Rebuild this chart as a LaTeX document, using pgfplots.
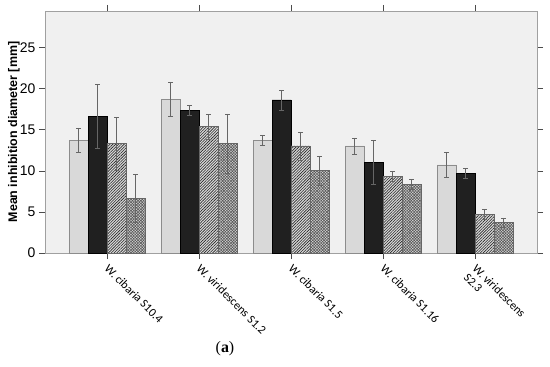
\documentclass[border=0pt]{standalone}
\usepackage{pgfplots}
\pgfplotsset{compat=1.18}
\usetikzlibrary{patterns.meta}
\usepackage{fontspec}
\setmainfont{Liberation Sans}
\newfontfamily\carlito{Carlito}
\newfontfamily\serifcap{Liberation Serif}
\definecolor{bgc}{HTML}{F0F0F0}
\definecolor{framec}{HTML}{A0A0A0}
\definecolor{lgray}{HTML}{D9D9D9}
\definecolor{dblack}{HTML}{202020}
\begin{document}
\begin{tikzpicture}
\begin{axis}[
  scale only axis,
  width=492bp, height=242bp,
  xmin=-0.674, xmax=4.674,
  ymin=0, ymax=29.4,
  ybar=0pt,
  bar width=19bp,
  axis background/.style={fill=bgc},
  axis line style={framec},
  xtick={0,1,2,3,4},
  xticklabels={W. cibaria S10.4, W. viridescens S1.2, W. cibaria S1.5, W. cibaria S1.16, {W. viridescens\\S2.3}},
  xticklabel style={rotate=-45, anchor=north west, font=\carlito\fontsize{12}{12.5}\selectfont, align=left, inner sep=1pt, xshift=4bp},
  x tick style={black!70, line width=0.5pt},
  tick align=outside,
  major tick length=6bp,
  ytick={0,5,10,15,20,25},
  y tick style={black!70},
  yticklabel style={font=\fontsize{14}{14}\selectfont},
  /pgf/number format/assume math mode=true,
  ylabel={Mean inhibition diameter [mm]},
  every axis y label/.style={at={(axis description cs:0,0.5)}, xshift=-31bp, rotate=90, anchor=center, font=\bfseries\fontsize{12.5}{13}\selectfont},
  error bars/y dir=both,
  error bars/y explicit,
  error bars/error bar style={black!60, line width=0.5pt},
  error bars/error mark options={rotate=90, mark size=2.5bp, black!60, line width=0.5pt},
  clip=false,
]
\addplot[fill=lgray, draw=black!45] coordinates {
 (0,13.7) +- (0,1.5)
 (1,18.7) +- (0,2.1)
 (2,13.7) +- (0,0.6)
 (3,13.0) +- (0,1.0)
 (4,10.7) +- (0,1.55)
};
\addplot[fill=dblack, draw=black] coordinates {
 (0,16.6) +- (0,3.85)
 (1,17.3) +- (0,0.6)
 (2,18.6) +- (0,1.2)
 (3,11.0) +- (0,2.7)
 (4,9.66) +- (0,0.6)
};
\addplot[fill=lgray, draw=black!60, postaction={pattern={Lines[angle=45, distance=2pt, line width=0.6pt]}, pattern color=black!85}] coordinates {
 (0,13.3) +- (0,3.2)
 (1,15.35) +- (0,1.5)
 (2,13.0) +- (0,1.7)
 (3,9.33) +- (0,0.57)
 (4,4.67) +- (0,0.6)
};
\addplot[fill=lgray, draw=black!60, postaction={pattern={Hatch[angle=45, distance=2pt, line width=0.6pt]}, pattern color=black!65}] coordinates {
 (0,6.66) +- (0,2.9)
 (1,13.3) +- (0,3.6)
 (2,10.0) +- (0,1.75)
 (3,8.36) +- (0,0.57)
 (4,3.69) +- (0,0.57)
};
\end{axis}
\node[font=\serifcap\fontsize{16}{16}\selectfont] at ([xshift=180bp,yshift=-96bp]current axis.south west) {(\textbf{a})};
\pgfresetboundingbox
\path ([xshift=-45bp,yshift=-114bp]current axis.south west) rectangle ([xshift=505bp,yshift=253bp]current axis.south west);
\end{tikzpicture}
\end{document}
